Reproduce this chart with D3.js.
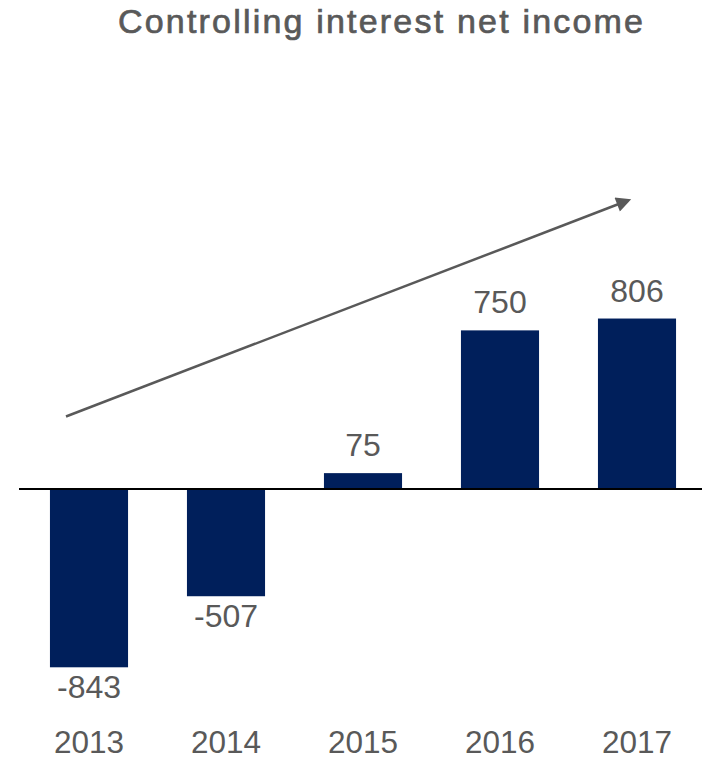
<!DOCTYPE html>
<html><head><meta charset="utf-8">
<script src="https://cdn.jsdelivr.net/npm/d3@7"></script>
<style>html,body{margin:0;padding:0;background:#fff;}</style>
</head><body>
<script>
const years = ["2013","2014","2015","2016","2017"];
const values = [-843,-507,75,750,806];
const labels = ["-843","-507","75","750","806"];
const title = "Controlling interest net income";

const W = 702, H = 760;
const svg = d3.select("body").append("svg").attr("width", W).attr("height", H);

const x = d3.scaleBand().domain(years).range([20.5, 705.5]).paddingInner(0.43).paddingOuter(0.215);
const y = d3.scaleLinear().domain([-1000, 1000]).range([700.5, 277.5]);

const t = svg.append("text").attr("x", 380.5).attr("y", 33).attr("text-anchor", "middle")
  .attr("font-family", "Liberation Sans, Arial, sans-serif").attr("font-size", 34)
  .attr("fill", "#595959").attr("stroke", "#595959").attr("stroke-width", 0.7)
  .text(title);
const tw = t.node().getComputedTextLength();
const ls = (525 - tw) / (title.length - 1);
t.attr("letter-spacing", ls).attr("x", 380.5 + ls / 2);

svg.selectAll("rect.bar").data(values).enter().append("rect").attr("class","bar")
  .attr("x", (d,i) => x(years[i])).attr("width", x.bandwidth())
  .attr("y", d => y(Math.max(0,d))).attr("height", d => Math.abs(y(d) - y(0)))
  .attr("fill", "#001f5b");

svg.append("line").attr("x1", 19).attr("x2", 702).attr("y1", y(0)).attr("y2", y(0))
  .attr("stroke", "#000").attr("stroke-width", 2);

svg.selectAll("text.val").data(values).enter().append("text").attr("class","val")
  .attr("x", (d,i) => x(years[i]) + x.bandwidth()/2)
  .attr("y", d => d >= 0 ? y(d) - 17 : y(d) + 31)
  .attr("text-anchor", "middle").attr("font-family", "Liberation Sans, Arial, sans-serif")
  .attr("font-size", 32).attr("fill", "#595959").text((d,i) => labels[i]);

svg.selectAll("text.yr").data(years).enter().append("text").attr("class","yr")
  .attr("x", d => x(d) + x.bandwidth()/2).attr("y", 753)
  .attr("text-anchor", "middle").attr("font-family", "Liberation Sans, Arial, sans-serif")
  .attr("font-size", 31.5).attr("fill", "#595959").text(d => d);

const defs = svg.append("defs");
defs.append("marker").attr("id","ah").attr("viewBox","0 0 10 10").attr("refX", 2).attr("refY", 5)
  .attr("markerWidth", 7).attr("markerHeight", 6).attr("orient","auto").attr("markerUnits","strokeWidth")
  .append("path").attr("d","M0,0 L10,5 L0,10 Z").attr("fill","#595959");

svg.append("line").attr("x1", 66).attr("y1", 416.5).attr("x2", 620).attr("y2", 203.5)
  .attr("stroke", "#595959").attr("stroke-width", 2.5).attr("marker-end","url(#ah)");
</script>
</body></html>
